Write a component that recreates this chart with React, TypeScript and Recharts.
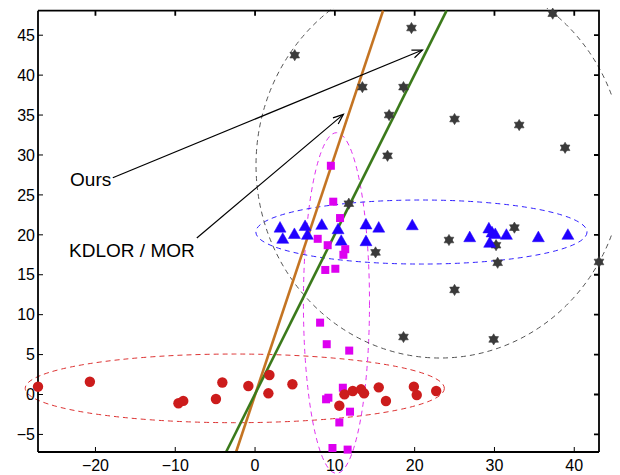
import React from 'react';
import { ScatterChart, Scatter, XAxis, YAxis, ReferenceLine, ReferenceDot } from 'recharts';

const xDomain: [number, number] = [-27.2, 43.1];
const yDomain: [number, number] = [-7.2, 48.07];
const xTicks = [-20, -10, 0, 10, 20, 30, 40];
const yTicks = [-5, 0, 5, 10, 15, 20, 25, 30, 35, 40, 45];

const starX = [4.97, 19.6, 37.3, 13.45, 18.6, 16.8, 25.0, 33.1, 38.85, 16.6, 11.75, 32.5, 24.3, 30.2, 30.4, 43.1, 15.1, 25.0, 18.6, 29.9];
const starY = [42.5, 45.9, 47.7, 38.5, 38.5, 35.0, 34.5, 33.75, 30.9, 29.9, 23.9, 20.9, 19.35, 18.7, 16.5, 16.6, 17.8, 13.1, 7.2, 6.9];

const triX = [3.13, 3.47, 4.93, 6.27, 6.56, 8.36, 10.4, 10.8, 13.9, 15.5, 13.9, 19.7, 26.9, 29.3, 29.7, 30.1, 29.4, 31.5, 35.5, 39.2];
const triY = [21.0, 19.6, 20.2, 21.2, 20.1, 21.35, 20.8, 19.35, 21.4, 21.0, 19.3, 21.3, 19.8, 20.9, 20.4, 20.2, 19.1, 20.1, 19.8, 20.1];

const sqX = [9.5, 9.8, 10.65, 7.85, 9.1, 11.3, 11.07, 8.8, 10.06, 8.15, 8.98, 11.8, 11.0, 9.19, 8.9, 11.9, 10.56, 9.7, 11.6];
const sqY = [28.65, 24.15, 22.1, 19.5, 18.7, 18.2, 17.5, 15.6, 15.75, 9.0, 6.3, 5.5, 0.85, -0.4, -0.6, -2.15, -3.5, -6.7, -6.9];

const dotX = [-27.2, -20.7, -9.6, -9.0, -4.9, -4.1, -0.84, 1.8, 1.67, 4.68, 10.56, 11.2, 12.24, 13.28, 13.66, 15.5, 16.4, 19.9, 20.26, 22.7];
const dotY = [0.98, 1.6, -1.1, -0.8, -0.56, 1.5, 1.06, 2.44, 0.15, 1.28, -1.4, 0.02, 0.44, 0.65, 0.15, 0.9, -0.81, 0.98, -0.06, 0.44];

// ellipses: red, magenta, blue, black
const ellipseCx = [-2.54, 10.2, 20.85, 23.18];
const ellipseCy = [0.77, 11.46, 20.35, 28.74];
const ellipseRx = [26.26, 4.14, 20.75, 23.06];
const ellipseRy = [4.3, 21.33, 4.01, 24.17];
const ellipseColors = ['#dd3333', '#e030f0', '#3322ff', '#555555'];

// fitted lines
const kdlorLineX = [-2.38, 16.04];
const kdlorLineY = [-7.2, 48.07];
const oursLineX = [-3.63, 24.0];
const oursLineY = [-7.2, 48.07];

// annotations
const labelTexts = ['Ours', 'KDLOR / MOR'];
const labelX = [-23.18, -23.3];
const labelY = [26.1, 17.28];
const arrowStartX = [-17.83, -7.3];
const arrowStartY = [27.15, 19.6];
const arrowEndX = [20.97, 11.07];
const arrowEndY = [43.14, 35.09];

const zip = (xs: number[], ys: number[]) => xs.map((x, i) => ({ x, y: ys[i] }));
const stars = zip(starX, starY);
const tris = zip(triX, triY);
const squares = zip(sqX, sqY);
const dots = zip(dotX, dotY);

const FONT = '"Liberation Sans", Arial, Helvetica, sans-serif';

const StarShape = (p: any) => {
  const { cx, cy } = p;
  const R = 5.6;
  const tri = (off: number) =>
    [0, 1, 2]
      .map((k) => {
        const a = ((off + k * 120) * Math.PI) / 180;
        return `${cx + R * Math.cos(a)},${cy + R * Math.sin(a)}`;
      })
      .join(' ');
  return (
    <g>
      <polygon points={tri(-90)} fill="#3a3a3a" stroke="#3a3a3a" strokeWidth={0.6} />
      <polygon points={tri(90)} fill="#3a3a3a" stroke="#3a3a3a" strokeWidth={0.6} />
    </g>
  );
};

const TriShape = (p: any) => {
  const { cx, cy } = p;
  const w = 6, h = 5.3;
  return (
    <polygon
      points={`${cx},${cy - h} ${cx + w},${cy + h} ${cx - w},${cy + h}`}
      fill="#2000ff"
      stroke="#2000ff"
      strokeWidth={0.5}
    />
  );
};

const SquareShape = (p: any) => {
  const { cx, cy } = p;
  const s = 4;
  return <rect x={cx - s} y={cy - s} width={2 * s} height={2 * s} fill="#dd00f0" />;
};

const DotShape = (p: any) => {
  const { cx, cy } = p;
  return <circle cx={cx} cy={cy} r={5.2} fill="#cc1c1c" />;
};

const ellipseShape = (color: string) => (p: any) => {
  const cx = (p.x1 + p.x2) / 2;
  const cy = (p.y1 + p.y2) / 2;
  const rx = Math.abs(p.x2 - p.x1) / 2;
  const ry = Math.abs(p.y2 - p.y1) / 2;
  return (
    <ellipse cx={cx} cy={cy} rx={rx} ry={ry} fill="none" stroke={color} strokeWidth={1} strokeDasharray="5 4" />
  );
};

const fitLineShape = (color: string) => (p: any) => (
  <line x1={p.x1} y1={p.y1} x2={p.x2} y2={p.y2} stroke={color} strokeWidth={2.6} />
);

// box frame: segment goes from (xmin, ymin) to (xmax, ymax); ticks placed by linear interpolation
const frameShape = (p: any) => {
  const { x1, y1, x2, y2 } = p;
  const px = (t: number) => x1 + ((t - xDomain[0]) / (xDomain[1] - xDomain[0])) * (x2 - x1);
  const py = (t: number) => y1 + ((t - yDomain[0]) / (yDomain[1] - yDomain[0])) * (y2 - y1);
  let d = `M${x1},${y2} L${x2},${y2} L${x2},${y1}`;
  xTicks.forEach((t) => {
    d += ` M${px(t)},${y2} L${px(t)},${y2 + 5}`;
  });
  yTicks.forEach((t) => {
    d += ` M${x2},${py(t)} L${x2 - 5},${py(t)}`;
  });
  return <path d={d} fill="none" stroke="#000" strokeWidth={1.8} />;
};

const arrowShape = (p: any) => {
  const { x1, y1, x2, y2 } = p;
  const ang = Math.atan2(y2 - y1, x2 - x1);
  const L = 11;
  const a = 0.38;
  const hx1 = x2 - L * Math.cos(ang - a);
  const hy1 = y2 - L * Math.sin(ang - a);
  const hx2 = x2 - L * Math.cos(ang + a);
  const hy2 = y2 - L * Math.sin(ang + a);
  return (
    <g>
      <line x1={x1} y1={y1} x2={x2} y2={y2} stroke="#000" strokeWidth={1.2} />
      <polyline points={`${hx1},${hy1} ${x2},${y2} ${hx2},${hy2}`} fill="none" stroke="#000" strokeWidth={1.2} />
    </g>
  );
};

const textShape = (txt: string) => (p: any) => (
  <text x={p.cx} y={p.cy} fontSize={19} fontFamily={FONT} fill="#000">
    {txt}
  </text>
);

const fmt = (v: number) => (v < 0 ? '\u2212' + Math.abs(v) : String(v));

export default function App() {
  return (
    <div style={{ width: 612, height: 467 }}>
      <ScatterChart width={612} height={467} margin={{ top: 2.7, right: 21, bottom: 0, left: 0 }}>
        <XAxis
          dataKey="x"
          type="number"
          domain={xDomain}
          ticks={xTicks}
          tickFormatter={fmt}
          height={23}
          tickSize={-5}
          tickMargin={12.5}
          axisLine={{ stroke: '#000', strokeWidth: 1.8 }}
          tickLine={{ stroke: '#000' }}
          tick={{ fill: '#000', fontSize: 16, fontFamily: FONT }}
        />
        <YAxis
          dataKey="y"
          type="number"
          domain={yDomain}
          ticks={yTicks}
          tickFormatter={fmt}
          width={30}
          tickSize={-5}
          tickMargin={8}
          axisLine={{ stroke: '#000', strokeWidth: 1.8 }}
          tickLine={{ stroke: '#000' }}
          tick={{ fill: '#000', fontSize: 16, fontFamily: FONT }}
        />

        {ellipseCx.map((cx, i) => (
          <ReferenceLine
            key={'e' + i}
            segment={[
              { x: cx - ellipseRx[i], y: ellipseCy[i] - ellipseRy[i] },
              { x: cx + ellipseRx[i], y: ellipseCy[i] + ellipseRy[i] },
            ]}
            ifOverflow="visible"
            shape={ellipseShape(ellipseColors[i])}
          />
        ))}

        <ReferenceLine
          key="frame"
          segment={[
            { x: xDomain[0], y: yDomain[0] },
            { x: xDomain[1], y: yDomain[1] },
          ]}
          ifOverflow="visible"
          shape={frameShape}
        />

        <ReferenceLine
          key="kdlor"
          segment={[
            { x: kdlorLineX[0], y: kdlorLineY[0] },
            { x: kdlorLineX[1], y: kdlorLineY[1] },
          ]}
          ifOverflow="visible"
          shape={fitLineShape('#c47423')}
        />
        <ReferenceLine
          key="ours"
          segment={[
            { x: oursLineX[0], y: oursLineY[0] },
            { x: oursLineX[1], y: oursLineY[1] },
          ]}
          ifOverflow="visible"
          shape={fitLineShape('#3b7a1b')}
        />

        <Scatter data={stars} shape={StarShape} isAnimationActive={false} />
        <Scatter data={tris} shape={TriShape} isAnimationActive={false} />
        <Scatter data={squares} shape={SquareShape} isAnimationActive={false} />
        <Scatter data={dots} shape={DotShape} isAnimationActive={false} />

        {arrowStartX.map((sx, i) => (
          <ReferenceLine
            key={'a' + i}
            segment={[
              { x: sx, y: arrowStartY[i] },
              { x: arrowEndX[i], y: arrowEndY[i] },
            ]}
            ifOverflow="visible"
            shape={arrowShape}
          />
        ))}
        {labelTexts.map((t, i) => (
          <ReferenceDot key={'t' + i} x={labelX[i]} y={labelY[i]} ifOverflow="visible" shape={textShape(t)} />
        ))}
      </ScatterChart>
    </div>
  );
}
